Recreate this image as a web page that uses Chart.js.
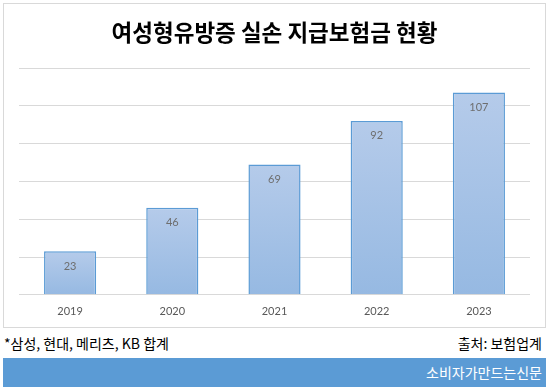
<!DOCTYPE html>
<html><head><meta charset="utf-8">
<script src="https://cdn.jsdelivr.net/npm/chart.js@4"></script>
<style>
html,body{margin:0;padding:0;background:#fff;width:550px;height:391px;overflow:hidden;}
#box{position:absolute;left:3px;top:3px;width:541px;height:323px;border:1px solid #d9d9d9;box-sizing:content-box;}
#wrap{position:absolute;left:0;top:0;width:541px;height:324px;}
.note{position:absolute;font-family:"Noto Sans CJK KR","Noto Sans",sans-serif;font-weight:400;font-size:14px;color:#000;line-height:17px;}
#blue{position:absolute;left:3px;top:358px;width:543px;height:29px;background:#5b9bd5;}
#brand{position:absolute;right:4px;top:6px;font-family:"Noto Sans CJK KR",sans-serif;font-weight:400;font-size:14px;color:#fff;line-height:17px;}
</style></head>
<body>
<div id="box"><div id="wrap"><canvas id="c"></canvas></div></div>
<div class="note" style="left:4px;top:335px;">*삼성, 현대, 메리츠, KB 합계</div>
<div class="note" style="right:8px;top:335px;">출처: 보험업계</div>
<div id="blue"><div id="brand">소비자가만드는신문</div></div>
<script>
const categories = ["2019","2020","2021","2022","2023"];
const values = [23, 46, 69, 92, 107];
const yTicks = {min:0, max:120, step:20};
const titleText = "여성형유방증 실손 지급보험금 현황";

const labelPlugin = {
  id:'barLabels',
  afterDatasetsDraw(chart){
    const ctx = chart.ctx;
    const meta = chart.getDatasetMeta(0);
    ctx.save();
    ctx.font = '11px Lato, "Open Sans", sans-serif';
    ctx.fillStyle = '#6e6e6e';
    ctx.textAlign = 'center';
    ctx.textBaseline = 'middle';
    meta.data.forEach((bar,i)=>{
      ctx.fillText(String(chart.data.datasets[0].data[i]), bar.x, bar.y + 15);
    });
    ctx.restore();
  }
};

function grad(context){
  const chart = context.chart;
  const {ctx, chartArea, scales} = chart;
  if(!chartArea || context.dataIndex === undefined) return '#a8c4e8';
  const v = context.raw;
  const top = scales.y.getPixelForValue(v);
  const bottom = scales.y.getPixelForValue(0);
  const g = ctx.createLinearGradient(0, top, 0, bottom);
  g.addColorStop(0, '#b5cbea');
  g.addColorStop(1, '#96b9e2');
  return g;
}

new Chart(document.getElementById('c'), {
  type:'bar',
  data:{
    labels:categories,
    datasets:[{
      data:values,
      backgroundColor:grad,
      borderColor:'#5b9bd5',
      borderWidth:1.5,
      barPercentage:0.51,
      categoryPercentage:1.0
    }]
  },
  options:{
    responsive:true,
    maintainAspectRatio:false,
    animation:false,
    layout:{padding:{left:15,right:15,top:0,bottom:0}},
    plugins:{
      legend:{display:false},
      tooltip:{enabled:false},
      title:{
        display:true,
        text:titleText,
        color:'#000',
        font:{family:'"Noto Sans CJK KR", sans-serif', size:22.5, weight:'bold'},
        padding:{top:15,bottom:22}
      }
    },
    scales:{
      x:{
        grid:{display:false, drawTicks:false},
        border:{display:false},
        ticks:{color:'#595959', padding:10, font:{family:'Lato, "Open Sans", sans-serif', size:11}}
      },
      y:{
        min:yTicks.min, max:yTicks.max,
        ticks:{display:false, stepSize:yTicks.step},
        border:{display:false},
        grid:{color:'#d9d9d9', lineWidth:1, drawTicks:false}
      }
    }
  },
  plugins:[labelPlugin]
});
</script>
</body></html>
